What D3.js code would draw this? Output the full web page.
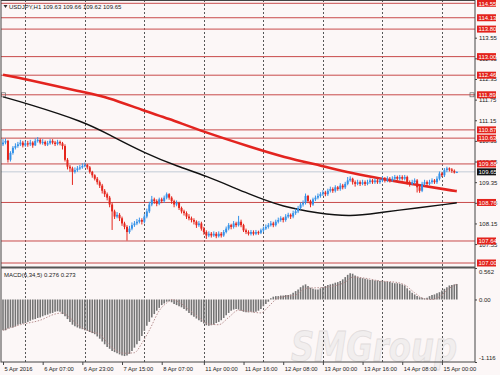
<!DOCTYPE html>
<html>
<head>
<meta charset="utf-8">
<script src="https://cdn.jsdelivr.net/npm/d3@7"></script>
<style>
body { margin: 0; background: #fcf7f7; }
svg text { font-family: "Liberation Sans", Arial, sans-serif; }
</style>
</head>
<body>
<svg id="chart" width="500" height="375"></svg>
<script>
// USDJPY H1, 5 Apr 2016 15:00 .. 15 Apr 2016 06:00 (bar index 0..183)
var firstOpen = 110.45;
var closes = [
  110.50,110.55,110.00,110.20,110.35,110.40,110.45,110.50,110.42,110.48,
  110.45,110.50,110.42,110.55,110.58,110.50,110.52,110.45,110.48,110.55,
  110.50,110.46,110.52,110.48,110.40,110.00,109.80,109.75,109.65,109.70,
  109.75,109.78,109.82,109.85,109.78,109.65,109.55,109.45,109.35,109.25,
  109.10,109.00,108.90,108.70,108.50,108.35,108.40,108.30,108.15,108.05,
  107.90,108.00,108.10,108.15,108.20,108.25,108.20,108.35,108.50,108.70,
  108.85,108.80,108.72,108.85,108.80,108.90,109.00,108.90,108.80,108.70,
  108.75,108.60,108.50,108.45,108.35,108.30,108.25,108.20,108.10,108.15,
  108.00,107.90,107.80,107.85,107.80,107.85,107.78,107.85,107.80,107.90,
  108.00,108.10,108.05,108.15,108.10,108.20,108.10,107.95,107.90,107.85,
  107.90,107.85,107.90,107.88,107.95,108.00,108.05,108.10,108.15,108.10,
  108.20,108.25,108.30,108.25,108.35,108.40,108.35,108.45,108.50,108.60,
  108.70,108.75,108.95,108.80,108.70,108.85,108.90,108.95,109.00,109.05,
  109.00,109.10,109.15,109.10,109.20,109.15,109.25,109.20,109.30,109.40,
  109.45,109.35,109.30,109.35,109.30,109.35,109.30,109.35,109.40,109.35,
  109.40,109.35,109.40,109.45,109.40,109.45,109.40,109.45,109.50,109.45,
  109.50,109.45,109.50,109.35,109.30,109.35,109.40,109.20,109.10,109.30,
  109.35,109.30,109.35,109.40,109.35,109.45,109.60,109.55,109.70,109.75,
  109.72,109.68,109.63,109.65
];
var highs = [
  110.60,110.62,110.58,110.25,110.40,110.48,110.52,110.58,110.55,110.56,
  110.55,110.58,110.54,110.62,110.66,110.62,110.60,110.56,110.55,110.60,
  110.60,110.55,110.58,110.56,110.52,110.45,110.05,109.85,109.80,109.78,
  109.82,109.85,109.90,109.92,109.88,109.82,109.68,109.58,109.50,109.40,
  109.30,109.15,109.05,108.95,108.75,108.55,108.48,108.45,108.35,108.20,
  108.10,108.08,108.18,108.22,108.28,108.32,108.30,108.42,108.58,108.78,
  108.95,108.90,108.85,108.90,108.90,108.96,109.05,109.03,108.94,108.84,
  108.82,108.78,108.64,108.55,108.50,108.42,108.35,108.30,108.24,108.22,
  108.20,108.05,107.95,107.92,107.90,107.92,107.90,107.92,107.90,107.96,
  108.06,108.16,108.14,108.22,108.20,108.37,108.26,108.14,108.00,107.95,
  107.96,107.95,107.96,107.94,108.00,108.06,108.12,108.16,108.22,108.20,
  108.26,108.32,108.36,108.34,108.42,108.46,108.44,108.52,108.58,108.66,
  108.76,108.82,109.02,108.98,108.84,108.90,108.96,109.02,109.06,109.12,
  109.10,109.16,109.22,109.20,109.26,109.24,109.32,109.30,109.36,109.50,
  109.52,109.48,109.40,109.42,109.40,109.42,109.40,109.42,109.46,109.44,
  109.46,109.44,109.46,109.52,109.50,109.52,109.50,109.52,109.56,109.54,
  109.56,109.55,109.56,109.54,109.40,109.42,109.46,109.44,109.25,109.36,
  109.42,109.40,109.42,109.46,109.44,109.52,109.66,109.64,109.76,109.80,
  109.78,109.76,109.72,109.66
];
var lows = [
  110.40,110.45,109.92,109.95,110.15,110.30,110.35,110.40,110.36,110.38,
  110.38,110.40,110.35,110.40,110.50,110.45,110.44,110.40,110.40,110.44,
  110.45,110.40,110.42,110.42,110.30,109.95,109.72,109.65,109.27,109.60,
  109.65,109.70,109.74,109.78,109.72,109.60,109.48,109.40,109.28,109.18,
  109.02,108.92,108.82,108.62,107.96,108.28,108.30,108.22,108.08,107.98,
  107.65,107.85,107.95,108.05,108.10,108.15,108.12,108.15,108.30,108.45,
  108.65,108.72,108.65,108.68,108.74,108.75,108.85,108.84,108.72,108.62,
  108.65,108.54,108.44,108.38,108.28,108.24,108.18,108.12,108.02,108.05,
  107.94,107.82,107.70,107.75,107.74,107.76,107.72,107.74,107.74,107.76,
  107.86,107.95,107.98,108.00,108.04,108.06,108.04,107.90,107.84,107.80,
  107.80,107.80,107.81,107.82,107.84,107.90,107.96,108.00,108.06,108.04,
  108.06,108.15,108.20,108.18,108.20,108.30,108.28,108.30,108.40,108.45,
  108.55,108.64,108.70,108.74,108.62,108.66,108.80,108.85,108.90,108.95,
  108.94,108.95,109.05,109.04,109.05,109.10,109.10,109.14,109.15,109.26,
  109.36,109.28,109.22,109.26,109.24,109.26,109.24,109.26,109.30,109.30,
  109.30,109.30,109.30,109.35,109.34,109.35,109.34,109.36,109.40,109.40,
  109.40,109.40,109.40,109.28,109.22,109.26,109.30,109.05,109.04,109.06,
  109.25,109.24,109.26,109.30,109.30,109.30,109.40,109.50,109.50,109.64,
  109.66,109.62,109.60,109.62
];

// moving averages, read at sample bars
var maSlowIdx = [0, 9, 32, 42, 57, 66, 81, 100, 113, 129, 140, 153, 167, 180, 183];
var maSlow    = [112.47,112.35,111.97,111.83,111.42,111.22,110.81,110.37,110.08,109.82,109.62,109.44,109.27,109.12,109.09];
var maFastIdx = [0, 9, 33, 43, 57, 71, 81, 100, 113, 127, 140, 153, 167, 180, 183];
var maFast    = [111.83,111.65,111.10,110.72,110.20,109.79,109.56,108.98,108.63,108.45,108.34,108.48,108.60,108.72,108.75];

// MACD(6,34,5) histogram, one value per bar
var macd = [
  -0.55,-0.55,-0.52,-0.50,-0.50,-0.48,-0.45,-0.44,-0.43,-0.42,
  -0.40,-0.38,-0.36,-0.35,-0.33,-0.32,-0.30,-0.28,-0.27,-0.25,
  -0.24,-0.22,-0.21,-0.22,-0.26,-0.30,-0.35,-0.40,-0.45,-0.48,
  -0.50,-0.52,-0.53,-0.55,-0.56,-0.58,-0.60,-0.62,-0.66,-0.70,
  -0.75,-0.80,-0.85,-0.88,-0.92,-0.94,-0.96,-0.98,-1.00,-1.01,
  -1.00,-0.97,-0.92,-0.86,-0.80,-0.74,-0.65,-0.56,-0.47,-0.40,
  -0.32,-0.26,-0.20,-0.15,-0.10,-0.07,-0.04,-0.03,-0.05,-0.08,
  -0.10,-0.12,-0.14,-0.17,-0.20,-0.24,-0.28,-0.31,-0.34,-0.37,
  -0.40,-0.43,-0.46,-0.47,-0.46,-0.45,-0.42,-0.40,-0.37,-0.33,
  -0.28,-0.24,-0.20,-0.18,-0.17,-0.18,-0.20,-0.22,-0.23,-0.23,
  -0.22,-0.23,-0.22,-0.20,-0.17,-0.12,-0.08,-0.04,0.02,0.05,
  0.06,0.06,0.07,0.07,0.08,0.08,0.09,0.12,0.15,0.18,
  0.22,0.25,0.27,0.24,0.21,0.19,0.18,0.18,0.20,0.22,
  0.24,0.26,0.27,0.28,0.30,0.31,0.33,0.36,0.40,0.44,
  0.47,0.46,0.43,0.41,0.39,0.38,0.37,0.36,0.35,0.35,
  0.34,0.34,0.33,0.33,0.32,0.32,0.31,0.30,0.29,0.29,
  0.28,0.27,0.25,0.20,0.16,0.12,0.09,0.06,0.04,0.03,
  0.02,0.03,0.06,0.08,0.09,0.11,0.13,0.16,0.19,0.22,
  0.25,0.26,0.27,0.276
];
var signalIdx = [0,7,15,21,24,27,31,35,39,43,49,53,56,59,63,67,68,71,75,79,83,87,91,95,100,104,107,110,113,118,122,127,132,138,141,146,152,158,162,166,170,173,176,180,183];
var signal    = [-0.55,-0.45,-0.37,-0.26,-0.24,-0.33,-0.48,-0.57,-0.62,-0.82,-0.96,-0.95,-0.78,-0.55,-0.20,-0.03,0.0,-0.05,-0.18,-0.32,-0.44,-0.45,-0.32,-0.19,-0.22,-0.24,-0.13,0.0,0.05,0.08,0.20,0.21,0.23,0.31,0.40,0.38,0.33,0.31,0.26,0.12,0.01,0.0,0.05,0.20,0.273];

// horizontal levels and axis ticks
var levels = [114.55,114.13,113.80,113.00,112.46,111.89,110.87,110.63,109.88,108.76,107.64,107.00];
var lastPrice = 109.65;
var priceTicks = [113.55,112.95,112.35,111.75,111.15,110.55,109.95,109.35,108.75,108.15,107.55];
var macdTicks = [0.562, 0, -1.116];
var macdTickLabels = ['0.562', '0.00', '-1.116'];
var dayStarts = [9,33,57,81,105,129,153,177];
var timeIdx = [0,16,32,48,64,81,97,113,129,145,161,177];
var timeLabels = ['5 Apr 2016','6 Apr 07:00','6 Apr 23:00','7 Apr 15:00','8 Apr 07:00','11 Apr 00:00',
                  '11 Apr 16:00','12 Apr 08:00','13 Apr 00:00','13 Apr 16:00','14 Apr 08:00','15 Apr 00:00'];

var bull = '#3592e8', bear = '#e5261d', levelCol = '#c84b4b';
var plotL = 1, plotR = 475, macdTop = 268, axisY = 362;

var svg = d3.select('#chart');

var x = d3.scaleLinear().domain([0, 183]).range([3, 456.8]);
var y = d3.scaleLinear().domain([107.00, 114.55]).range([263, 3.3]);
var ym = d3.scaleLinear().domain([-1.116, 0.562]).range([axisY, macdTop]);

svg.append('rect').attr('width', 500).attr('height', 375).attr('fill', '#fcf7f7');

// watermark
svg.append('text')
   .attr('x', 291).attr('y', 361)
   .attr('textLength', 166).attr('lengthAdjust', 'spacingAndGlyphs')
   .style('font-family', '"DejaVu Sans", sans-serif')
   .style('font-size', '40px').style('font-style', 'italic').style('font-weight', 'bold')
   .attr('fill', '#f1eeee').attr('stroke', '#e1dcdc').attr('stroke-width', 0.8)
   .text('SMGroup');

// day separators (dotted)
svg.append('g').selectAll('line').data(dayStarts).enter().append('line')
   .attr('x1', function(d) { return Math.round(x(d)) + 0.5; })
   .attr('x2', function(d) { return Math.round(x(d)) + 0.5; })
   .attr('y1', 0).attr('y2', axisY)
   .attr('stroke', '#444').attr('stroke-width', 0.9).attr('stroke-dasharray', '2,2');

// horizontal levels
svg.append('g').selectAll('line').data(levels).enter().append('line')
   .attr('x1', plotL).attr('x2', plotR)
   .attr('y1', function(d) { return y(d); }).attr('y2', function(d) { return y(d); })
   .attr('stroke', levelCol).attr('stroke-width', 1);

// last price line
svg.append('line')
   .attr('x1', plotL).attr('x2', plotR).attr('y1', y(lastPrice)).attr('y2', y(lastPrice))
   .attr('stroke', '#c3ccd6').attr('stroke-width', 1);

// moving averages
var maLine = function(idx) {
    return d3.line()
        .x(function(d, i) { return x(idx[i]); })
        .y(function(d) { return y(d); })
        .curve(d3.curveBasis);
};
svg.append('path').datum(maFast)
   .attr('fill', 'none').attr('stroke', '#111').attr('stroke-width', 1.4)
   .attr('d', maLine(maFastIdx));
svg.append('path').datum(maSlow)
   .attr('fill', 'none').attr('stroke', '#e3241f').attr('stroke-width', 2.6)
   .attr('d', maLine(maSlowIdx));

// candles
var bars = closes.map(function(c, i) {
    return {i: i, o: i ? closes[i - 1] : firstOpen, h: highs[i], l: lows[i], c: c};
});
var cg = svg.append('g');
cg.selectAll('line').data(bars).enter().append('line')
  .attr('x1', function(d) { return x(d.i); }).attr('x2', function(d) { return x(d.i); })
  .attr('y1', function(d) { return y(d.h); }).attr('y2', function(d) { return y(d.l); })
  .attr('stroke', function(d) { return d.c >= d.o ? bull : bear; })
  .attr('stroke-width', 1);
cg.selectAll('rect').data(bars).enter().append('rect')
  .attr('x', function(d) { return x(d.i) - 1; })
  .attr('width', 2)
  .attr('y', function(d) { return y(Math.max(d.o, d.c)); })
  .attr('height', function(d) { return Math.max(1.2, Math.abs(y(d.o) - y(d.c))); })
  .attr('fill', function(d) { return d.c >= d.o ? bull : bear; });

// line anchors on 111.89
svg.append('rect').attr('x', 1.5).attr('y', y(111.89) - 2).attr('width', 4).attr('height', 4)
   .attr('fill', 'none').attr('stroke', '#666').attr('stroke-width', 0.7);
svg.append('rect').attr('x', 470).attr('y', y(111.89) - 2).attr('width', 4).attr('height', 4)
   .attr('fill', 'none').attr('stroke', '#666').attr('stroke-width', 0.7);

// MACD histogram
svg.append('g').selectAll('line').data(macd).enter().append('line')
   .attr('x1', function(d, i) { return x(i); }).attr('x2', function(d, i) { return x(i); })
   .attr('y1', ym(0)).attr('y2', function(d) { return ym(d); })
   .attr('stroke', '#747474').attr('stroke-width', 1.6);

// MACD signal
svg.append('path').datum(signal)
   .attr('fill', 'none').attr('stroke', '#b08585').attr('stroke-width', 0.9)
   .attr('stroke-dasharray', '1.5,1.5')
   .attr('d', d3.line()
       .x(function(d, i) { return x(signalIdx[i]); })
       .y(function(d) { return ym(d); })
       .curve(d3.curveMonotoneX));

// frame and separator
svg.append('rect').attr('x', plotL).attr('y', 0.5).attr('width', plotR - plotL).attr('height', axisY - 0.5)
   .attr('fill', 'none').attr('stroke', '#444').attr('stroke-width', 1);
svg.append('line').attr('x1', plotL).attr('x2', plotR).attr('y1', 267.5).attr('y2', 267.5)
   .attr('stroke', '#555').attr('stroke-width', 2);

// price axis
var pAxis = svg.append('g').attr('transform', 'translate(' + plotR + ',0)')
   .call(d3.axisRight(y).tickValues(priceTicks).tickSize(2).tickPadding(2)
         .tickFormat(d3.format('.2f')));
pAxis.select('.domain').remove();
pAxis.selectAll('text').style('font-size', '6px').attr('fill', '#222');
pAxis.selectAll('line').attr('stroke', '#444');

// level labels
var lg = svg.append('g').selectAll('g').data(levels).enter().append('g')
   .attr('transform', function(d) { return 'translate(477,' + y(d) + ')'; });
lg.append('rect').attr('x', 0).attr('y', -3.5).attr('width', 19).attr('height', 7).attr('fill', '#e3231c');
lg.append('text').attr('x', 1.5).attr('y', 2.2).attr('fill', '#fff').style('font-size', '6px')
  .text(function(d) { return d3.format('.2f')(d); });

var lp = svg.append('g').attr('transform', 'translate(477,' + y(lastPrice) + ')');
lp.append('rect').attr('x', 0).attr('y', -3.5).attr('width', 19).attr('height', 7).attr('fill', '#111');
lp.append('text').attr('x', 1.5).attr('y', 2.2).attr('fill', '#fff').style('font-size', '6px')
  .text(d3.format('.2f')(lastPrice));

// MACD axis
var mAxis = svg.append('g').attr('transform', 'translate(' + plotR + ',0)')
   .call(d3.axisRight(ym).tickValues(macdTicks).tickSize(2).tickPadding(2)
         .tickFormat(function(d, i) { return macdTickLabels[i]; }));
mAxis.select('.domain').remove();
mAxis.selectAll('text').style('font-size', '6px').attr('fill', '#222')
     .attr('dy', function(d, i) { return i === 0 ? '0.95em' : (i === 2 ? '-0.35em' : '0.32em'); });
mAxis.selectAll('line').attr('stroke', '#444');

// time axis
var tAxis = svg.append('g').attr('transform', 'translate(0,' + axisY + ')')
   .call(d3.axisBottom(x).tickValues(timeIdx).tickSize(3).tickPadding(2)
         .tickFormat(function(d, i) { return timeLabels[i]; }));
tAxis.select('.domain').remove();
tAxis.selectAll('line').attr('stroke', '#444');
tAxis.selectAll('text').style('font-size', '5.8px').attr('fill', '#222')
     .attr('text-anchor', 'start').attr('dx', 1);

// titles
svg.append('path').attr('d', 'M3.5,5 L7.5,5 L5.5,8 Z').attr('fill', '#333');
svg.append('text').attr('x', 9).attr('y', 9).style('font-size', '6px').attr('fill', '#222')
   .text('USDJPY,H1  109.63 109.66 109.62 109.65');
svg.append('text').attr('x', 4).attr('y', 277).style('font-size', '6px').attr('fill', '#222')
   .text('MACD(6,34,5) 0.276 0.273');
</script>
</body>
</html>
